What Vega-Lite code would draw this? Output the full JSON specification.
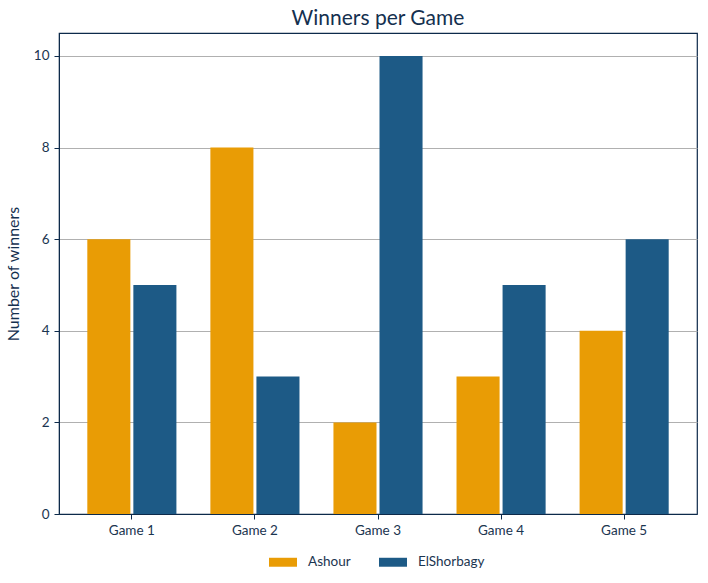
{
  "$schema": "https://vega.github.io/schema/vega-lite/v6.json",
  "autosize": "none",
  "width": 638,
  "height": 481,
  "padding": {"left": 59, "top": 33, "right": 11, "bottom": 69},
  "background": "white",
  "title": {"text": "Winners per Game", "font": "Lato", "fontSize": 21, "fontWeight": "normal", "color": "#14304f", "offset": 4},
  "data": {"values": [
    {"game": "Game 1", "player": "Ashour", "winners": 6},
    {"game": "Game 1", "player": "ElShorbagy", "winners": 5},
    {"game": "Game 2", "player": "Ashour", "winners": 8},
    {"game": "Game 2", "player": "ElShorbagy", "winners": 3},
    {"game": "Game 3", "player": "Ashour", "winners": 2},
    {"game": "Game 3", "player": "ElShorbagy", "winners": 10},
    {"game": "Game 4", "player": "Ashour", "winners": 3},
    {"game": "Game 4", "player": "ElShorbagy", "winners": 5},
    {"game": "Game 5", "player": "Ashour", "winners": 4},
    {"game": "Game 5", "player": "ElShorbagy", "winners": 6}
  ]},
  "mark": {"type": "bar"},
  "encoding": {
    "x": {"field": "game", "type": "nominal", "title": null,
      "scale": {"paddingInner": 0.276, "paddingOuter": 0.23},
      "axis": {"labelAngle": 0, "labelFont": "Lato", "labelFontSize": 13.5, "labelColor": "#1b3550", "tickColor": "#0d2a4a", "domainColor": "#0d2a4a", "tickSize": 5, "labelPadding": 4, "grid": false}},
    "xOffset": {"field": "player", "type": "nominal", "scale": {"paddingInner": 0.065, "paddingOuter": 0}},
    "y": {"field": "winners", "type": "quantitative", "title": "Number of winners",
      "scale": {"domain": [0, 10.5], "nice": false},
      "axis": {"values": [0, 2, 4, 6, 8, 10], "labelFont": "Lato", "labelFontSize": 13.5, "labelColor": "#1b3550", "titleFont": "Lato", "titleFontSize": 16, "titleFontWeight": "normal", "titleColor": "#14304f", "tickColor": "#0d2a4a", "domainColor": "#0d2a4a", "tickSize": 5, "labelPadding": 5, "titlePadding": 12, "gridColor": "#b0b0b0", "gridWidth": 1}},
    "color": {"field": "player", "type": "nominal",
      "scale": {"domain": ["Ashour", "ElShorbagy"], "range": ["#e99c05", "#1d5a86"]},
      "legend": {"title": null, "orient": "none", "legendX": 210, "legendY": 515, "direction": "horizontal", "labelFont": "Lato", "labelFontSize": 13.5, "labelColor": "#1b3550", "symbolType": "M-1,-0.32H1V0.32H-1Z", "symbolSize": 784, "symbolStrokeWidth": 0, "columnPadding": 28, "labelOffset": 11}}
  },
  "config": {"view": {"stroke": "#0d2a4a", "strokeWidth": 1.2}}
}
